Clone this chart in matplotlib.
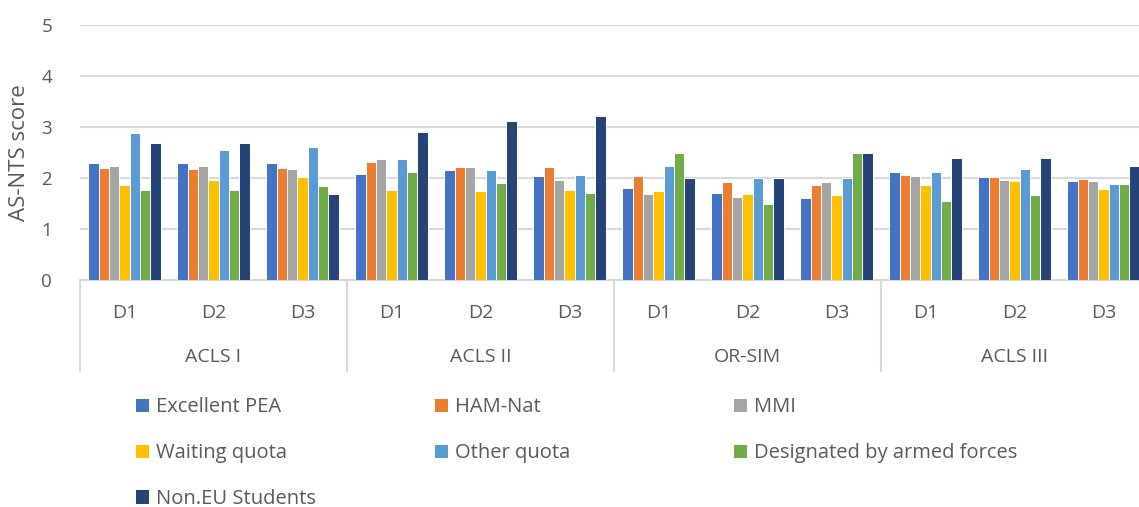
import matplotlib.pyplot as plt
import matplotlib.transforms as mtransforms
import numpy as np

plt.rcParams['font.family'] = ['Open Sans', 'DejaVu Sans']

# Courses, each scored on three days
courses = ["ACLS I", "ACLS II", "OR-SIM", "ACLS III"]
days = ["D1", "D2", "D3"]

series_names = ["Excellent PEA", "HAM-Nat", "MMI", "Waiting quota",
                "Other quota", "Designated by armed forces", "Non.EU Students"]
series_colors = ["#4472C4", "#ED7D31", "#A5A5A5", "#FFC000",
                 "#5B9BD5", "#70AD47", "#264478"]

# Mean scores per admission route, ordered ACLS I D1..D3, ACLS II D1..D3, ...
excellent_pea = [2.29, 2.29, 2.29, 2.08, 2.15, 2.03, 1.80, 1.71, 1.61, 2.11, 2.01, 1.95]
ham_nat       = [2.20, 2.18, 2.20, 2.31, 2.22, 2.22, 2.03, 1.93, 1.86, 2.06, 2.01, 1.98]
mmi           = [2.24, 2.24, 2.18, 2.37, 2.22, 1.96, 1.69, 1.63, 1.93, 2.04, 1.96, 1.94]
waiting_quota = [1.86, 1.96, 2.01, 1.76, 1.75, 1.76, 1.74, 1.69, 1.66, 1.86, 1.94, 1.79]
other_quota   = [2.88, 2.54, 2.60, 2.37, 2.15, 2.06, 2.23, 2.00, 2.00, 2.11, 2.18, 1.88]
armed_forces  = [1.76, 1.76, 1.84, 2.11, 1.91, 1.71, 2.50, 1.50, 2.50, 1.54, 1.67, 1.88]
non_eu        = [2.68, 2.68, 1.68, 2.90, 3.11, 3.22, 2.00, 2.00, 2.50, 2.39, 2.39, 2.24]

series_values = [excellent_pea, ham_nat, mmi, waiting_quota,
                 other_quota, armed_forces, non_eu]

W, H = 1139, 507
fig = plt.figure(figsize=(W / 100, H / 100), dpi=100)
ax = fig.add_axes([80 / W, 1 - 280 / H, 1068 / W, 255 / H])

n_cat = len(courses) * len(days)
x = np.arange(n_cat)
bar_w = 0.116
bars = []
for j, (name, vals, col) in enumerate(zip(series_names, series_values, series_colors)):
    b = ax.bar(x + (j - 3) * bar_w, vals, width=bar_w, color=col, label=name,
               edgecolor="white", linewidth=0.7, zorder=3)
    bars.append(b)

grid_col = "#d9d9d9"
text_col = "#595959"
ax.set_xlim(-0.5, n_cat - 0.5)
ax.set_ylim(0, 5)
ax.set_yticks(range(6))
ax.yaxis.grid(True, color=grid_col, linewidth=1.5, zorder=0)
ax.tick_params(axis="y", length=0, labelsize=13.5, labelcolor=text_col, pad=20)
ax.set_ylabel("AS-NTS score", fontsize=16, color=text_col, labelpad=8)

for side in ["top", "right", "left"]:
    ax.spines[side].set_visible(False)
ax.spines["bottom"].set_color(grid_col)
ax.spines["bottom"].set_linewidth(1.5)

# Group separators as long major ticks, day labels as minor tick labels
ax.set_xticks(np.arange(0, n_cat + 1, 3) - 0.5)
ax.set_xticklabels([])
ax.tick_params(axis="x", which="major", length=66, width=1.5, color=grid_col)
ax.set_xticks(x, minor=True)
ax.set_xticklabels(days * len(courses), minor=True)
ax.tick_params(axis="x", which="minor", length=0, labelsize=14,
               labelcolor=text_col, pad=17)

trans = mtransforms.blended_transform_factory(ax.transData, ax.transAxes)
for i, course in enumerate(courses):
    ax.text(i * 3 + 1, -77 / 255, course, transform=trans, ha="center",
            va="center", fontsize=14, color=text_col)

# Legend laid out row by row in three evenly spaced columns
col_x = [135, 434, 733]
for c in range(3):
    idx = list(range(c, len(series_names), 3))
    fig.legend([bars[k] for k in idx], [series_names[k] for k in idx],
               loc="upper left", bbox_to_anchor=(col_x[c] / W, 1 - 397 / H),
               bbox_transform=fig.transFigure, frameon=False, fontsize=14.5,
               labelcolor=text_col, borderpad=0, borderaxespad=0,
               handlelength=0.7, handleheight=0.7, handletextpad=0.35,
               labelspacing=1.28)

fig.savefig("out.png", dpi=100)
